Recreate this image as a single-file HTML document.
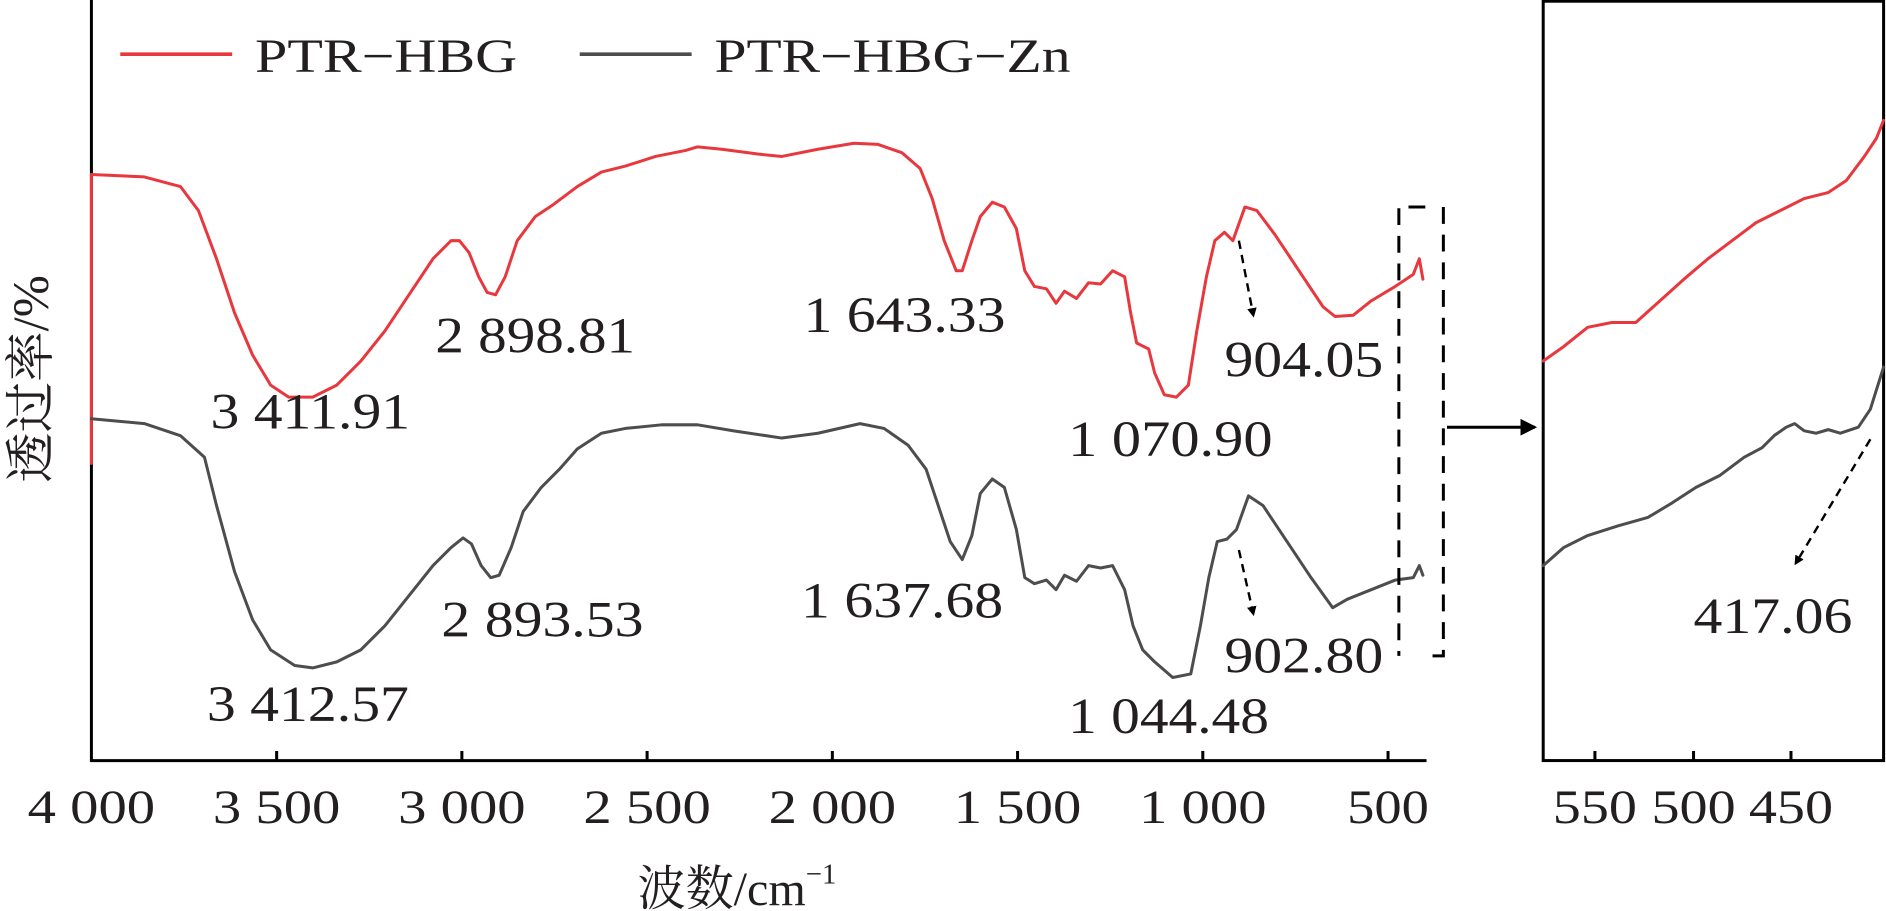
<!DOCTYPE html>
<html><head><meta charset="utf-8"><style>html,body{margin:0;padding:0;background:#fff}svg{display:block}</style></head>
<body>
<svg width="1886" height="911" viewBox="0 0 1568 757" preserveAspectRatio="none" xmlns="http://www.w3.org/2000/svg" font-family="Liberation Serif, Noto Serif CJK SC, serif" fill="#231f20">
<defs><marker id="ah" markerWidth="8" markerHeight="8" refX="6" refY="4" orient="auto" markerUnits="userSpaceOnUse"><path d="M0,0 L8,4 L0,8 Z" fill="#000"/></marker>
<marker id="ah2" markerWidth="14" markerHeight="14" refX="12" refY="7" orient="auto" markerUnits="userSpaceOnUse"><path d="M0,0 L14,7 L0,14 Z" fill="#000"/></marker></defs>
<g stroke="#000" stroke-width="2.5" fill="none">
<line x1="76" y1="0" x2="76" y2="633"/><line x1="75" y1="632" x2="1186" y2="632"/>
<path d="M230,632v-8M384,632v-8M538,632v-8M692,632v-8M846,632v-8M1000,632v-8M1154,632v-8"/>
<rect x="1283" y="1" width="283" height="631"/>
<path d="M1326,632v-8M1408,632v-8M1489,632v-8"/>
</g>
<g fill="none" stroke-width="2.5" stroke-linejoin="round" stroke-linecap="round">
<polyline stroke="#e8383d" points="76,145 120,147 150,155 165,175 180,215 195,260 210,295 225,320 240,330 260,330 280,320 300,300 320,275 340,245 360,215 375,200 382,200 390,210 398,230 405,243 412,245 420,230 430,200 445,180 460,170 480,155 500,143 520,138 545,130 570,125 580,122 600,124 630,128 650,130 680,124 710,119 730,120 750,127 765,140 775,165 785,200 795,225 800,225 808,200 815,180 825,168 835,172 845,190 852,225 860,238 870,240 878,252 885,242 895,248 905,235 915,236 925,225 935,230 940,260 945,285 955,290 960,310 968,328 978,330 988,320 995,275 1003,230 1010,200 1018,193 1025,200 1035,172 1045,175 1060,195 1080,225 1100,255 1110,263 1125,262 1140,250 1160,238 1175,228 1180,215 1183,232"/>
<line x1="76" y1="145" x2="76" y2="385" stroke="#e8383d"/>
<polyline stroke="#4d4d4f" points="76,348 120,352 150,362 170,380 180,420 195,475 210,515 225,540 245,553 260,555 280,550 300,540 320,520 340,495 360,470 375,455 385,447 392,452 400,470 408,480 415,478 425,455 435,425 450,405 465,390 480,373 500,360 520,356 550,353 580,353 610,358 650,364 680,360 715,352 735,356 755,370 770,390 780,420 790,450 800,465 808,445 815,410 825,398 835,405 845,440 852,480 860,485 870,482 878,490 885,478 895,483 905,470 915,472 925,470 935,490 942,520 950,540 960,550 975,563 990,560 998,520 1005,480 1012,450 1020,448 1028,440 1038,412 1050,420 1070,450 1090,480 1108,505 1120,498 1140,490 1160,482 1175,480 1180,470 1183,478"/>
<polyline stroke="#e8383d" points="1283,300 1300,288 1320,272 1340,268 1360,268 1380,250 1400,232 1420,215 1440,200 1460,185 1480,175 1500,165 1520,160 1535,150 1550,130 1560,115 1566,100"/>
<polyline stroke="#4d4d4f" points="1283,470 1300,455 1320,445 1345,437 1370,430 1390,418 1410,405 1430,395 1450,380 1465,372 1475,362 1485,355 1492,352 1500,358 1510,360 1520,357 1530,360 1545,355 1555,340 1566,305"/>
</g>
<g stroke="#000" stroke-width="2.5" fill="none" stroke-dasharray="14,9">
<path d="M1185,172 H1163 V545"/><path d="M1200,172 V545 H1190"/>
</g>
<g stroke="#000" stroke-width="2" fill="none" stroke-dasharray="7,5">
<line x1="1030" y1="200" x2="1042" y2="262" marker-end="url(#ah)"/>
<line x1="1030" y1="457" x2="1042" y2="510" marker-end="url(#ah)"/>
<line x1="1555" y1="365" x2="1493" y2="468" marker-end="url(#ah)"/>
</g>
<line x1="1203" y1="355" x2="1276" y2="355" stroke="#000" stroke-width="2.5" marker-end="url(#ah2)"/>
<line x1="100" y1="45" x2="193" y2="45" stroke="#e8383d" stroke-width="3"/>
<line x1="482" y1="45" x2="575" y2="45" stroke="#4d4d4f" stroke-width="3"/>
<g font-size="40">
<text x="212" y="60" textLength="218" lengthAdjust="spacingAndGlyphs">PTR−HBG</text>
<text x="594" y="60" textLength="296" lengthAdjust="spacingAndGlyphs">PTR−HBG−Zn</text>
</g>
<g font-size="42">
<text x="175" y="356" textLength="166" lengthAdjust="spacingAndGlyphs">3 411.91</text>
<text x="362" y="293" textLength="166" lengthAdjust="spacingAndGlyphs">2 898.81</text>
<text x="668" y="276" textLength="168" lengthAdjust="spacingAndGlyphs">1 643.33</text>
<text x="1018" y="313" textLength="132" lengthAdjust="spacingAndGlyphs">904.05</text>
<text x="888" y="379" textLength="170" lengthAdjust="spacingAndGlyphs">1 070.90</text>
<text x="172" y="599" textLength="168" lengthAdjust="spacingAndGlyphs">3 412.57</text>
<text x="367" y="529" textLength="168" lengthAdjust="spacingAndGlyphs">2 893.53</text>
<text x="666" y="513" textLength="168" lengthAdjust="spacingAndGlyphs">1 637.68</text>
<text x="1018" y="559" textLength="132" lengthAdjust="spacingAndGlyphs">902.80</text>
<text x="888" y="609" textLength="167" lengthAdjust="spacingAndGlyphs">1 044.48</text>
<text x="1408" y="526" textLength="132" lengthAdjust="spacingAndGlyphs">417.06</text>
</g>
<g font-size="40" text-anchor="middle">
<text x="76" y="684" textLength="106" lengthAdjust="spacingAndGlyphs">4 000</text>
<text x="230" y="684" textLength="106" lengthAdjust="spacingAndGlyphs">3 500</text>
<text x="384" y="684" textLength="106" lengthAdjust="spacingAndGlyphs">3 000</text>
<text x="538" y="684" textLength="106" lengthAdjust="spacingAndGlyphs">2 500</text>
<text x="692" y="684" textLength="106" lengthAdjust="spacingAndGlyphs">2 000</text>
<text x="846" y="684" textLength="106" lengthAdjust="spacingAndGlyphs">1 500</text>
<text x="1000" y="684" textLength="106" lengthAdjust="spacingAndGlyphs">1 000</text>
<text x="1154" y="684" textLength="68" lengthAdjust="spacingAndGlyphs">500</text>
<text x="1326" y="684" textLength="70" lengthAdjust="spacingAndGlyphs">550</text>
<text x="1408" y="684" textLength="70" lengthAdjust="spacingAndGlyphs">500</text>
<text x="1489" y="684" textLength="70" lengthAdjust="spacingAndGlyphs">450</text>
</g>
<text x="530" y="752" font-size="40">波数/cm<tspan font-size="24" dy="-18">−1</tspan></text>
<text transform="translate(40,315) rotate(-90)" font-size="42" text-anchor="middle">透过率/%</text>
</svg>
</body></html>
